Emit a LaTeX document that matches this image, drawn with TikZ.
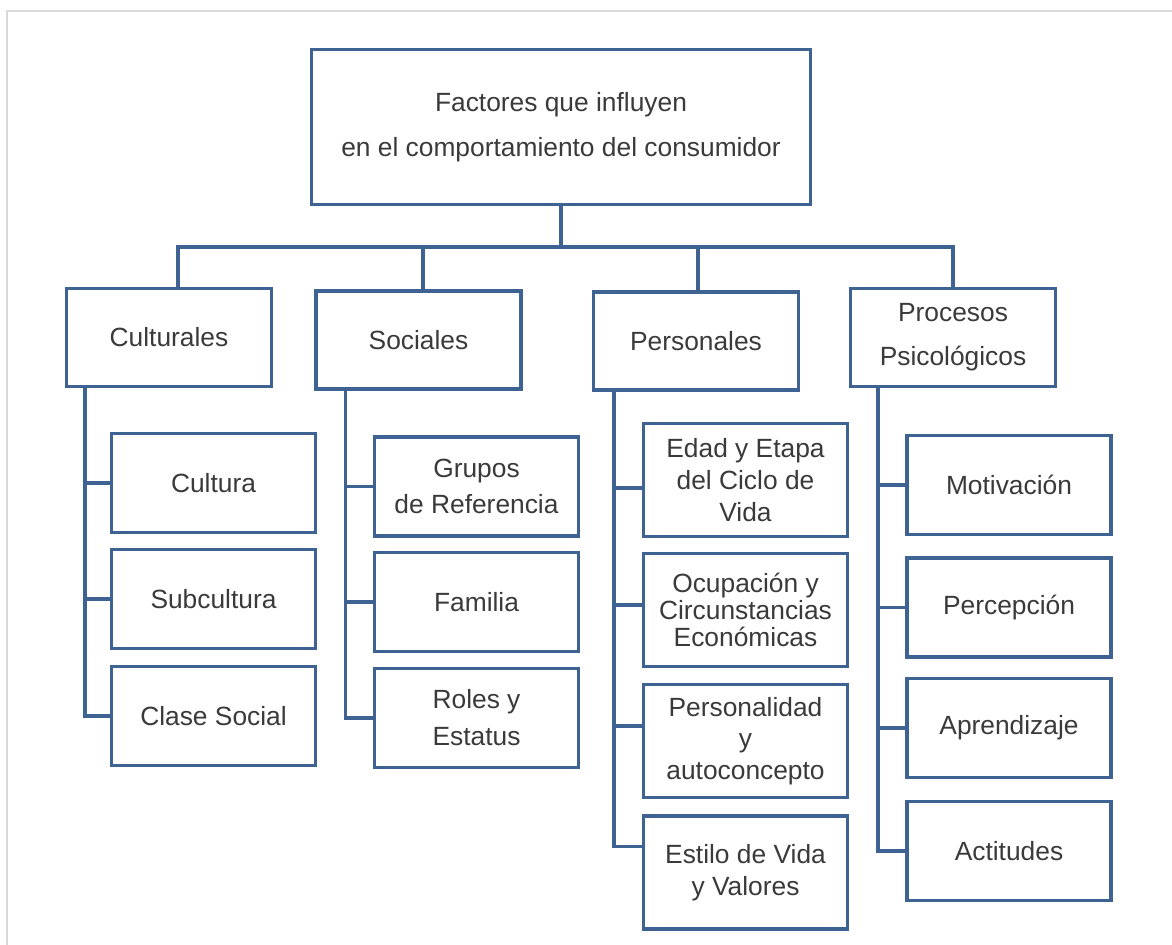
\documentclass[tikz,border=0pt]{standalone}
\usepackage{fontspec}
\setmainfont{Liberation Sans}
\usetikzlibrary{calc}
\definecolor{boxblue}{RGB}{62,99,146}
\definecolor{txtgray}{RGB}{58,58,58}
\definecolor{framegray}{RGB}{218,218,218}
\tikzset{
  topbox/.style={draw=boxblue, line width=1.9pt, fill=white, text=txtgray,
                 font=\fontsize{15}{18}\selectfont, align=center, inner sep=2pt,
                 minimum width=9.98cm, minimum height=3.1cm},
  catbox/.style={draw=boxblue, line width=1.9pt, fill=white, text=txtgray,
                 font=\fontsize{15}{18}\selectfont, align=center, inner sep=2pt,
                 minimum width=4.1cm, minimum height=1.96cm},
  itembox/.style={draw=boxblue, line width=1.9pt, fill=white, text=txtgray,
                  font=\fontsize{15}{18}\selectfont, align=center, inner sep=2pt,
                  minimum width=4.08cm, minimum height=#1},
  itembox/.default=1.98cm,
  link/.style={draw=boxblue, line width=1.9pt},
}

\begin{document}
\begin{tikzpicture}[x=0.02cm, y=-0.02cm]
\useasboundingbox (0,0) rectangle (1172,945);
\draw[framegray, line width=1pt] (7,945) -- (7,11) -- (1172,11);

% Main box
\node[topbox] (top) at (561,127)
      {Factores que influyen\\[7.6pt]en el comportamiento del consumidor};

% Categories
\node[catbox] (cult) at (169,337.5) {Culturales};
\node[catbox] (soc)  at (418.5,340) {Sociales};
\node[catbox] (pers) at (696,341) {Personales};
\node[catbox] (proc) at (953,337.5) {Procesos\\[7pt]Psicológicos};

\coordinate (bar) at (561,247);
\draw[link] (top.south) -- (bar);
\draw[link] ($(cult.north)+(9,0)$) |- (bar);
\draw[link] ($(soc.north)+(4.5,0)$) |- (bar);
\draw[link] ($(pers.north)+(2,0)$) |- (bar);
\draw[link] (proc.north) |- (bar);

% Culturales
\node[itembox] (cultura) at (213.5,483) {Cultura};
\node[itembox] (subcult) at (213.5,599) {Subcultura};
\node[itembox] (clase)   at (213.5,716) {Clase Social};
\foreach \n in {cultura,subcult,clase}
  \draw[link] ($(cult.south west)+(20,0)$) |- (\n.west);

% Sociales
\node[itembox] (grupos)  at (476.5,486.5) {Grupos\\[2.5pt]de Referencia};
\node[itembox] (familia) at (476.5,602) {Familia};
\node[itembox] (roles)   at (476.5,718) {Roles y\\[3pt]Estatus};
\foreach \n in {grupos,familia,roles}
  \draw[link] ($(soc.south west)+(31,0)$) |- (\n.west);

% Personales
\node[itembox=2.26cm] (edad)    at (745.5,480) {Edad y Etapa\\del Ciclo de\\Vida};
\node[itembox=2.26cm] (ocup)    at (745.5,610) {Ocupación y\\[-2.6pt]Circunstancias\\[-2.6pt]Económicas};
\node[itembox=2.26cm] (persona) at (745.5,741) {Personalidad\\y\\autoconcepto};
\node[itembox=2.26cm] (estilo)  at (745.5,872.5) {Estilo de Vida\\y Valores};
\draw[link] ($(pers.south west)+(22,0)$) |- ($(edad.west)+(0,8)$);
\draw[link] ($(pers.south west)+(22,0)$) |- ($(ocup.west)+(0,-5)$);
\draw[link] ($(pers.south west)+(22,0)$) |- ($(persona.west)+(0,-15)$);
\draw[link] ($(pers.south west)+(22,0)$) |- ($(estilo.west)+(0,-26)$);

% Procesos Psicologicos
\node[itembox] (motiv)  at (1009,485) {Motivación};
\node[itembox] (percep) at (1009,607.5) {Percepción};
\node[itembox] (aprend) at (1009,728) {Aprendizaje};
\node[itembox] (actit)  at (1009,851) {Actitudes};
\foreach \n in {motiv,percep,aprend,actit}
  \draw[link] ($(proc.south west)+(29,0)$) |- (\n.west);

\end{tikzpicture}
\end{document}
